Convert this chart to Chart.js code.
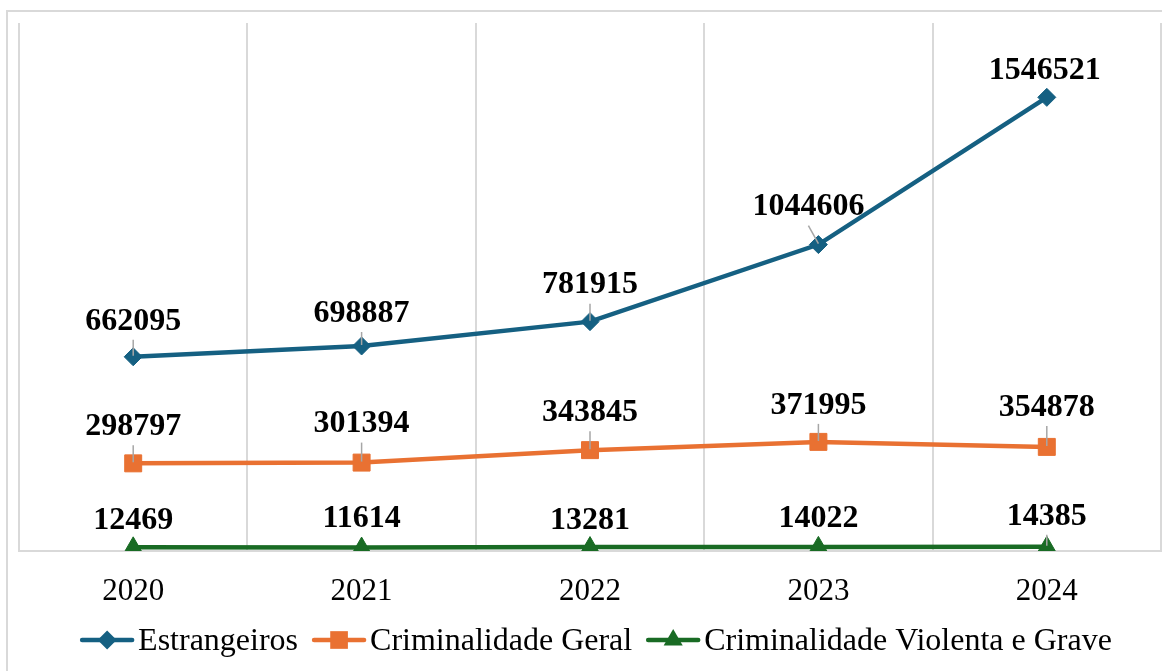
<!DOCTYPE html>
<html>
<head>
<meta charset="utf-8">
<script src="https://cdn.jsdelivr.net/npm/chart.js@4"></script>
<style>
  html, body { margin: 0; padding: 0; background: #fff; }
  canvas { display: block; }
</style>
</head>
<body>
<canvas id="crimeChart" width="1162" height="671"></canvas>
<script>
const years = ["2020", "2021", "2022", "2023", "2024"];
const estrangeiros = [662095, 698887, 781915, 1044606, 1546521];
const crimGeral = [298797, 301394, 343845, 371995, 354878];
const crimViolenta = [12469, 11614, 13281, 14022, 14385];
const yMax = 1800000;

const serif = "'Liberation Serif', 'Times New Roman', serif";

// where each value label sits, relative to its point (dx, dy of the digits' centre)
const labelShift = [
  [[0, -38], [0, -35], [0, -39], [-10, -40], [-2, -29]],
  [[0, -39], [0, -41], [0, -40], [0, -39], [0, -42]],
  [[0, -29], [0, -31], [0, -29], [0, -31], [0, -33]],
];

function drawMarker(ctx, style, x, y, r) {
  ctx.beginPath();
  if (style === "rectRot") {
    ctx.moveTo(x - r, y);
    ctx.lineTo(x, y - r);
    ctx.lineTo(x + r, y);
    ctx.lineTo(x, y + r);
  } else if (style === "rect") {
    const s = r * Math.SQRT1_2;
    ctx.rect(x - s, y - s, 2 * s, 2 * s);
  } else {
    ctx.moveTo(x, y - r);
    ctx.lineTo(x + 0.866 * r, y + 0.5 * r);
    ctx.lineTo(x - 0.866 * r, y + 0.5 * r);
  }
  ctx.closePath();
  ctx.fill();
}

const outerFrame = {
  id: "outerFrame",
  beforeDraw(chart) {
    const ctx = chart.ctx;
    ctx.save();
    ctx.strokeStyle = "#d9d9d9";
    ctx.lineWidth = 2;
    ctx.strokeRect(7, 11, 1200, 700);
    ctx.restore();
  },
};

const valueLabels = {
  id: "valueLabels",
  afterDatasetsDraw(chart) {
    const ctx = chart.ctx;
    ctx.save();
    ctx.font = "bold 32px " + serif;
    ctx.textAlign = "center";
    ctx.textBaseline = "alphabetic";
    chart.data.datasets.forEach((ds, i) => {
      chart.getDatasetMeta(i).data.forEach((pt, j) => {
        const [dx, dy] = labelShift[i][j];
        const lx = pt.x + dx;
        const ly = pt.y + dy;
        if (pt.y - (ly + 21) > 11) {
          ctx.strokeStyle = "#a6a6a6";
          ctx.lineWidth = 1.5;
          ctx.beginPath();
          ctx.moveTo(lx, ly + 21);
          ctx.lineTo(pt.x, pt.y - 1);
          ctx.stroke();
        }
        ctx.fillStyle = "#000";
        ctx.fillText(String(ds.data[j]), lx, ly + 10.8);
      });
    });
    ctx.restore();
  },
};

const legendRow = {
  id: "legendRow",
  afterDraw(chart) {
    const ctx = chart.ctx;
    const sets = chart.data.datasets;
    ctx.save();
    ctx.font = "32px " + serif;
    const sample = 54, gap = 4, space = 14;
    const widths = sets.map((ds) => sample + gap + ctx.measureText(ds.label).width);
    const total = widths.reduce((a, b) => a + b, 0) + space * (sets.length - 1);
    let x = 596 - total / 2;
    const y = 640;
    sets.forEach((ds, i) => {
      ctx.strokeStyle = ds.borderColor;
      ctx.fillStyle = ds.borderColor;
      ctx.lineWidth = 4.5;
      ctx.lineCap = "round";
      ctx.beginPath();
      ctx.moveTo(x + 2, y);
      ctx.lineTo(x + sample - 2, y);
      ctx.stroke();
      drawMarker(ctx, ds.pointStyle, x + sample / 2, y, ds.pointRadius + 0.5);
      ctx.fillStyle = "#000";
      ctx.textAlign = "left";
      ctx.textBaseline = "alphabetic";
      ctx.fillText(ds.label, x + sample + gap, y + 10);
      x += widths[i] + space;
    });
    ctx.restore();
  },
};

const ctx = document.getElementById("crimeChart").getContext("2d");
const crimeChart = new Chart(ctx, {
  type: "line",
  data: {
    labels: years,
    datasets: [
      {
        label: "Estrangeiros",
        data: estrangeiros,
        borderColor: "#156082",
        backgroundColor: "#156082",
        borderWidth: 4.5,
        pointStyle: "rectRot",
        pointRadius: 9,
        pointBorderWidth: 1,
        tension: 0,
      },
      {
        label: "Criminalidade Geral",
        data: crimGeral,
        borderColor: "#E97132",
        backgroundColor: "#E97132",
        borderWidth: 4.5,
        pointStyle: "rect",
        pointRadius: 12,
        pointBorderWidth: 1,
        tension: 0,
      },
      {
        label: "Criminalidade Violenta e Grave",
        data: crimViolenta,
        borderColor: "#196B24",
        backgroundColor: "#196B24",
        borderWidth: 4.5,
        pointStyle: "triangle",
        pointRadius: 10.5,
        pointBorderWidth: 1,
        tension: 0,
      },
    ],
  },
  options: {
    responsive: false,
    animation: false,
    devicePixelRatio: 1,
    layout: { autoPadding: false, padding: { left: 19, right: 1, top: 23, bottom: 0 } },
    plugins: {
      legend: { display: false },
      tooltip: { enabled: false },
    },
    scales: {
      x: {
        offset: true,
        grid: { offset: true, color: "#d9d9d9", lineWidth: 2, drawTicks: false },
        border: { color: "#d9d9d9", width: 2 },
        ticks: { color: "#000", font: { family: serif, size: 31 }, padding: 22 },
        afterFit(scale) {
          scale.height = 120;
          scale.paddingLeft = 0;
          scale.paddingRight = 0;
        },
      },
      y: {
        display: false,
        min: 0,
        max: yMax,
      },
    },
  },
  plugins: [outerFrame, valueLabels, legendRow],
});
</script>
</body>
</html>
